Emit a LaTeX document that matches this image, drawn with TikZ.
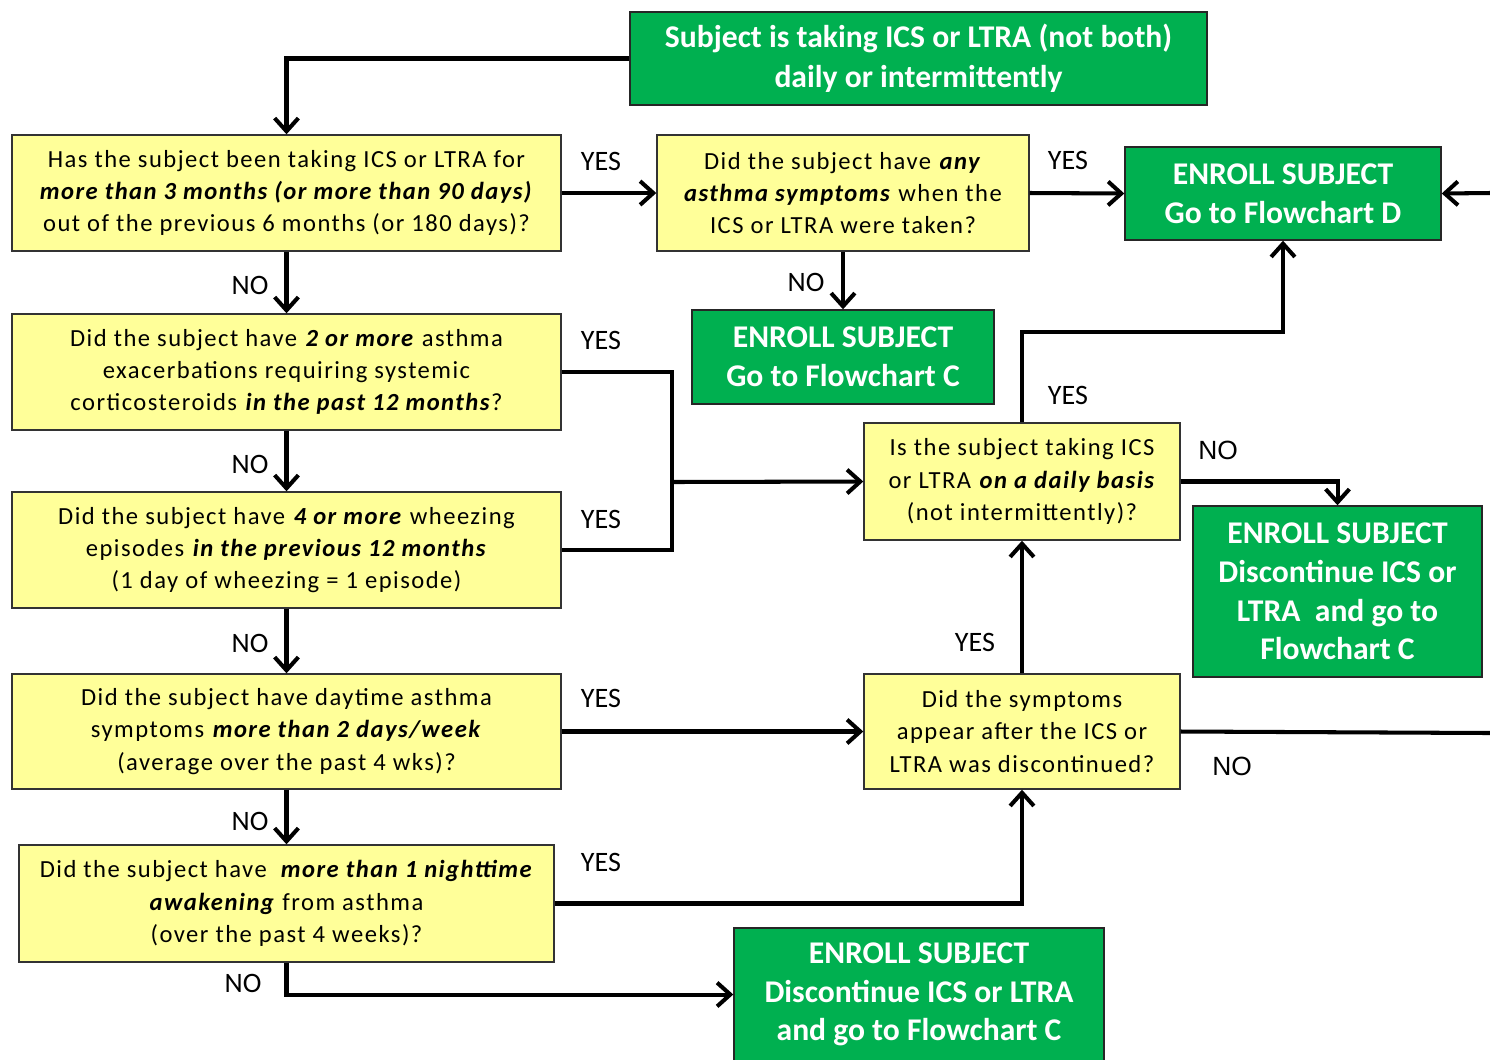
\documentclass[tikz,border=0pt]{standalone}
\usepackage{fontspec}
\setmainfont{Carlito}
\newfontfamily\qfont[LetterSpace=6]{Carlito}
\newfontfamily\arialfont{Liberation Sans}
\usetikzlibrary{arrows.meta}
\definecolor{qyellow}{HTML}{FFFF99}
\definecolor{egreen}{HTML}{00B050}
\newcommand{\bitx}[1]{\textbf{\textit{#1}}}
\begin{document}
\begin{tikzpicture}[x=0.02cm,y=-0.02cm,
  question/.style={draw=black!80, line width=0.8pt, fill=qyellow, align=center,
    inner sep=0pt, font=\qfont\fontsize{14}{18.4}\selectfont},
  outcome/.style={draw=black!85, line width=0.8pt, fill=egreen, align=center,
    inner sep=0pt, text=white, font=\fontsize{18}{22}\selectfont\bfseries},
  link/.style={line width=2.3pt, line join=miter},
  arr/.style={link, -{Straight Barb[length=7.5pt,width=13.5pt]}},
  lbl/.style={font=\fontsize{16}{18}\selectfont, inner sep=0pt},
  lblr/.style={font=\arialfont\fontsize{15}{18}\selectfont, inner sep=0pt}]
\useasboundingbox (0,0) rectangle (1490,1059);

% decision boxes
\node[question, minimum width=549*0.02cm, minimum height=116*0.02cm] (q1) at (286.5,193)
  {Has the subject been taking ICS or LTRA for\\ \bitx{more than 3 months (or more than 90 days)}\\out of the previous 6 months (or 180 days)?};
\node[question, minimum width=549*0.02cm, minimum height=116*0.02cm] (q2) at (286.5,372)
  {Did the subject have \bitx{2 or more} asthma\\exacerbations requiring systemic\\corticosteroids \bitx{in the past 12 months}?};
\node[question, minimum width=549*0.02cm, minimum height=116*0.02cm] (q3) at (286.5,550)
  {Did the subject have \bitx{4 or more} wheezing\\episodes \bitx{in the previous 12 months}\\(1 day of wheezing = 1 episode)};
\node[question, minimum width=549*0.02cm, minimum height=115*0.02cm] (q4) at (286.5,731.5)
  {Did the subject have daytime asthma\\symptoms \bitx{more than 2 days/week}\\(average over the past 4 wks)?};
\node[question, minimum width=535*0.02cm, minimum height=117*0.02cm] (q5) at (286.5,903.5)
  {Did the subject have \ \bitx{more than 1 nighttime}\\\bitx{awakening} from asthma\\(over the past 4 weeks)?};
\node[question, minimum width=372*0.02cm, minimum height=116*0.02cm] (qa) at (843,193)
  {Did the subject have \bitx{any}\\\bitx{asthma symptoms} when the\\ICS or LTRA were taken?};
\node[question, minimum width=316*0.02cm, minimum height=117*0.02cm] (qb) at (1022,481.5)
  {Is the subject taking ICS\\or LTRA \bitx{on a daily basis}\\(not intermittently)?};
\node[question, minimum width=316*0.02cm, minimum height=115*0.02cm] (qc) at (1022,731.5)
  {Did the symptoms\\appear after the ICS or\\LTRA was discontinued?};

% outcome boxes
\node[outcome, minimum width=577*0.02cm, minimum height=93*0.02cm,
  font=\fontsize{18}{23}\selectfont\bfseries] (top) at (918.5,58.5)
  {Subject is taking ICS or LTRA (not both)\\daily or intermittently};
\node[outcome, minimum width=316*0.02cm, minimum height=93*0.02cm] (gD) at (1283,193.5)
  {ENROLL SUBJECT\\Go to Flowchart D};
\node[outcome, minimum width=302*0.02cm, minimum height=94*0.02cm] (gC) at (843,357)
  {ENROLL SUBJECT\\Go to Flowchart C};
\node[outcome, minimum width=289*0.02cm, minimum height=171*0.02cm] (gX) at (1337.5,591.5)
  {ENROLL SUBJECT\\Discontinue ICS or\\LTRA \ and go to\\Flowchart C};
\node[outcome, minimum width=370*0.02cm, minimum height=133*0.02cm] (gB) at (919,994.5)
  {ENROLL SUBJECT\\Discontinue ICS or LTRA\\and go to Flowchart C};

% junctions and free ends
\coordinate (m) at (672,482);
\coordinate (k) at (1283,332);
\coordinate (inD) at (1490,193);
\coordinate (outR) at (1490,733);

% connectors
\draw[arr] (top.west) -| (q1.north);
\draw[arr] (q1.east) -- (qa.west);
\draw[arr] (qa.east) -- (gD.west);
\draw[arr] (inD) -- (gD.east);
\draw[arr] (qa.south) -- (gC.north);
\draw[arr] (q1.south) -- (q2.north);
\draw[arr] (q2.south) -- (q3.north);
\draw[arr] (q3.south) -- (q4.north);
\draw[arr] (q4.south) -- (q5.north);
\draw[link] (q2.east) -| (m) |- (q3.east);
\draw[arr] (m) -- (qb.west);
\draw[arr] (qb.north) |- (k) -- (gD.south);
\draw[arr] (qb.east) -| (gX.north);
\draw[arr] (qc.north) -- (qb.south);
\draw[link] (qc.east) -- (outR);
\draw[arr] (q4.east) -- (qc.west);
\draw[arr] (q5.east) -| (qc.south);
\draw[arr] (q5.south) |- (gB.west);

% branch labels
\node[lbl] (y1) at (601,161) {YES};
\node[lbl] (y2) at (1068,160) {YES};
\node[lbl] (y3) at (601,340) {YES};
\node[lbl] (y4) at (601,519) {YES};
\node[lbl] (y5) at (1068,395) {YES};
\node[lbl] (y6) at (601,698) {YES};
\node[lbl] (y7) at (975,642) {YES};
\node[lbl] (y8) at (601,862) {YES};
\node[lbl] (n1) at (250,285) {NO};
\node[lbl] (n2) at (806,282) {NO};
\node[lbl] (n3) at (250,464) {NO};
\node[lbl] (n4) at (250,643) {NO};
\node[lbl] (n5) at (250,821) {NO};
\node[lbl] (n6) at (243,983) {NO};
\node[lblr] (n7) at (1218,450) {NO};
\node[lblr] (n8) at (1232,766) {NO};
\end{tikzpicture}
\end{document}
